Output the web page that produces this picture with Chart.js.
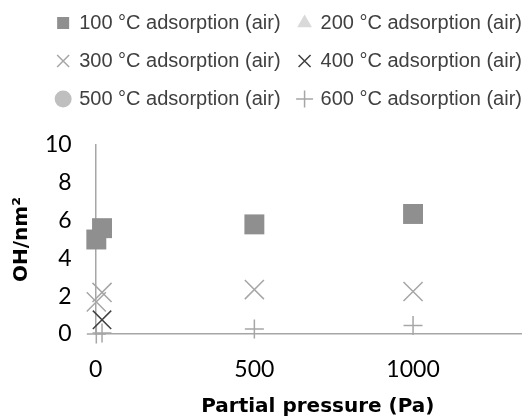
<!DOCTYPE html>
<html>
<head>
<meta charset="utf-8">
<script src="https://cdn.jsdelivr.net/npm/chart.js@4"></script>
<style>
    html, body { margin: 0; padding: 0; background: #fff; overflow: hidden; }
    #wrap { width: 522px; height: 417px; overflow: hidden; }
    #ohChart { display: block; margin-top: -5px; }
</style>
</head>
<body>
<div id="wrap"><canvas id="ohChart" width="575" height="422"></canvas></div>
<script>
const seriesNames = [
    "100 °C adsorption (air)",
    "200 °C adsorption (air)",
    "300 °C adsorption (air)",
    "400 °C adsorption (air)",
    "500 °C adsorption (air)",
    "600 °C adsorption (air)"
];
const pressures = [2, 20, 500, 1000];
const oh100 = [5.0, 5.6, 5.8, 6.35];
const oh200 = [null, null, null, null];
const oh300 = [1.7, 2.2, 2.35, 2.25];
const oh400 = [null, 0.75, null, null];
const oh500 = [null, null, null, null];
const oh600 = [0, 0.05, 0.27, 0.45];
const xTicks = [0, 500, 1000];
const yTicks = [0, 2, 4, 6, 8, 10];

function toPoints(values) {
    return pressures.map((p, i) => ({ x: p, y: values[i] }));
}

function serie(i, values, style, color, radius, fill) {
    return {
        label: seriesNames[i],
        data: toPoints(values),
        pointStyle: style,
        pointRadius: radius,
        pointBorderColor: color,
        pointBackgroundColor: fill || color,
        pointBorderWidth: fill ? 0 : 1.5,
        borderColor: color,
        backgroundColor: fill || color,
        clip: false
    };
}

// espaco entre a legenda e o grafico
const legendGap = {
    id: "legendGap",
    beforeInit(chart) {
        const fitOrig = chart.legend.fit;
        chart.legend.fit = function () {
            fitOrig.bind(chart.legend)();
            this.height += 26;
        };
    }
};

const ctx = document.getElementById("ohChart").getContext("2d");

new Chart(ctx, {
    type: "scatter",
    data: {
        datasets: [
            serie(0, oh100, "rect", "#8f8f8f", 14.1, "#8f8f8f"),
            serie(1, oh200, "triangle", "#d9d9d9", 9, "#d9d9d9"),
            serie(2, oh300, "crossRot", "#a6a6a6", 13.5),
            serie(3, oh400, "crossRot", "#404040", 13),
            serie(4, oh500, "circle", "#bfbfbf", 9, "#bfbfbf"),
            serie(5, oh600, "cross", "#a6a6a6", 9.5)
        ]
    },
    plugins: [legendGap],
    options: {
        responsive: false,
        animation: false,
        layout: { padding: { left: 0, right: 35, top: 0, bottom: 0 } },
        plugins: {
            tooltip: { enabled: false },
            legend: {
                position: "top",
                align: "end",
                labels: {
                    usePointStyle: true,
                    boxWidth: 12,
                    boxHeight: 12,
                    padding: 18,
                    color: "#404040",
                    font: { family: "'Liberation Sans', Arial", size: 20 }
                }
            }
        },
        scales: {
            x: {
                type: "linear",
                min: 0,
                max: 1400,
                afterBuildTicks: axis => { axis.ticks = xTicks.map(v => ({ value: v })); },
                grid: { display: false, drawTicks: false },
                border: { display: true, color: "#a6a6a6", width: 1.5 },
                ticks: {
                    padding: 22,
                    color: "#000",
                    font: { family: "Lato", size: 23 },
                    callback: v => String(v)
                },
                title: {
                    display: true,
                    text: "Partial pressure (Pa)",
                    color: "#000",
                    padding: { top: -8.6, bottom: 0 },
                    font: { family: "'DejaVu Sans'", size: 20, weight: "bold", lineHeight: 1 }
                }
            },
            y: {
                min: 0,
                max: 10,
                afterBuildTicks: axis => { axis.ticks = yTicks.map(v => ({ value: v })); },
                grid: { display: false, drawTicks: false },
                border: { display: true, color: "#a6a6a6", width: 1.5 },
                ticks: {
                    padding: 24,
                    color: "#000",
                    font: { family: "Lato", size: 23 },
                    callback: v => String(v)
                },
                title: {
                    display: true,
                    text: "OH/nm²",
                    color: "#000",
                    padding: { top: 12, bottom: -11 },
                    font: { family: "'DejaVu Sans'", size: 20, weight: "bold", lineHeight: 1 }
                }
            }
        }
    }
});
</script>
</body>
</html>
